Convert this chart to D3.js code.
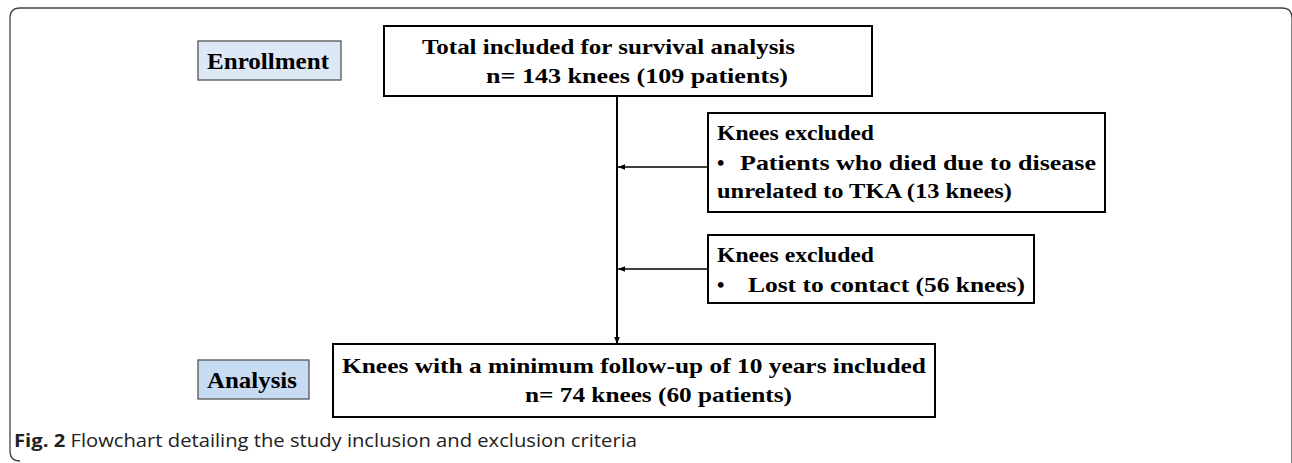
<!DOCTYPE html>
<html>
<head>
<meta charset="utf-8">
<script src="https://cdn.jsdelivr.net/npm/d3@7"></script>
<style>
  html, body { margin: 0; padding: 0; background: #fff; }
  svg { display: block; }
  .box-text { font-family: "Liberation Serif", "Times New Roman", Tinos, "Nimbus Roman", FreeSerif, serif; font-weight: bold; fill: #000; }
  .caption { font-family: "Open Sans", "Noto Sans", sans-serif; fill: #222; }
</style>
</head>
<body>
<div id="chart"></div>
<script>
// Textos del diagrama
const stageLabels = ['Enrollment', 'Analysis'];
const topBoxLines = ['Total included for survival analysis', 'n= 143 knees (109 patients)'];
const exclusion1Lines = ['Knees excluded', 'Patients who died due to disease', 'unrelated to TKA (13 knees)'];
const exclusion2Lines = ['Knees excluded', 'Lost to contact (56 knees)'];
const bottomBoxLines = ['Knees with a minimum follow-up of 10 years included', 'n= 74 knees (60 patients)'];
const captionBold = 'Fig. 2';
const captionText = ' Flowchart detailing the study inclusion and exclusion criteria';

const W = 1292, H = 463;

const svg = d3.select('#chart').append('svg')
  .attr('width', W).attr('height', H);

svg.append('defs').append('marker')
  .attr('id', 'arrow')
  .attr('viewBox', '0 0 10 10')
  .attr('refX', 10).attr('refY', 5)
  .attr('markerWidth', 7).attr('markerHeight', 7)
  .attr('markerUnits', 'userSpaceOnUse')
  .attr('orient', 'auto')
  .append('path')
  .attr('d', 'M0,1 L10,5 L0,9 Z')
  .attr('fill', '#000');

// Marco exterior redondeado
svg.append('path')
  .attr('d', `M20,461 Q10,461 10,451 L10,18 Q10,8 20,8 L${W - 10},8 Q${W},8 ${W},18 L${W},${H + 10}`)
  .attr('fill', 'none')
  .attr('stroke', '#444')
  .attr('stroke-width', 1.3);

function box(x, y, w, h, opts = {}) {
  svg.append('rect')
    .attr('x', x).attr('y', y).attr('width', w).attr('height', h)
    .attr('fill', opts.fill || '#fff')
    .attr('stroke', opts.stroke || '#000')
    .attr('stroke-width', opts.sw || 2);
}

function text(str, x, y, size, width, anchor = 'start') {
  const t = svg.append('text')
    .attr('class', 'box-text')
    .attr('x', x).attr('y', y)
    .attr('font-size', size)
    .attr('text-anchor', anchor)
    .text(str);
  if (width) t.attr('textLength', width).attr('lengthAdjust', 'spacingAndGlyphs');
  return t;
}

const FS = 21;

// Etapas
box(198, 41, 143, 39, { fill: '#dce8f6', stroke: '#555', sw: 1.3 });
text(stageLabels[0], 207, 69, 23, 122);
box(198, 360, 111, 39, { fill: '#c7dbf2', stroke: '#555', sw: 1.3 });
text(stageLabels[1], 207, 388, 23, 90);

// Caja superior
box(384, 26, 488, 70);
text(topBoxLines[0], 422, 54, FS, 373);
text(topBoxLines[1], 486, 83, FS, 302);

// Línea vertical principal
svg.append('line')
  .attr('x1', 617).attr('y1', 96).attr('x2', 617).attr('y2', 344)
  .attr('stroke', '#000').attr('stroke-width', 2)
  .attr('marker-end', 'url(#arrow)');

// Exclusión 1
box(708, 113, 397, 99);
text(exclusion1Lines[0], 717, 140, FS, 157);
text('•', 717, 170, FS);
text(exclusion1Lines[1], 740, 170, FS, 356);
text(exclusion1Lines[2], 717, 198, FS, 295);
svg.append('line')
  .attr('x1', 708).attr('y1', 167).attr('x2', 618).attr('y2', 167)
  .attr('stroke', '#000').attr('stroke-width', 1.5)
  .attr('marker-end', 'url(#arrow)');

// Exclusión 2
box(708, 235, 326, 68);
text(exclusion2Lines[0], 717, 262, FS, 157);
text('•', 717, 292, FS);
text(exclusion2Lines[1], 748, 292, FS, 277);
svg.append('line')
  .attr('x1', 708).attr('y1', 269).attr('x2', 618).attr('y2', 269)
  .attr('stroke', '#000').attr('stroke-width', 1.5)
  .attr('marker-end', 'url(#arrow)');

// Caja inferior
box(333, 344, 602, 73);
text(bottomBoxLines[0], 342, 373, FS, 584);
text(bottomBoxLines[1], 525, 402, FS, 267);

// Pie de figura
const cap = svg.append('text')
  .attr('class', 'caption')
  .attr('x', 14).attr('y', 447)
  .attr('font-size', 18)
  .attr('textLength', 623).attr('lengthAdjust', 'spacingAndGlyphs');
cap.append('tspan').attr('font-weight', 'bold').text(captionBold);
cap.append('tspan').text(captionText);
</script>
</body>
</html>
